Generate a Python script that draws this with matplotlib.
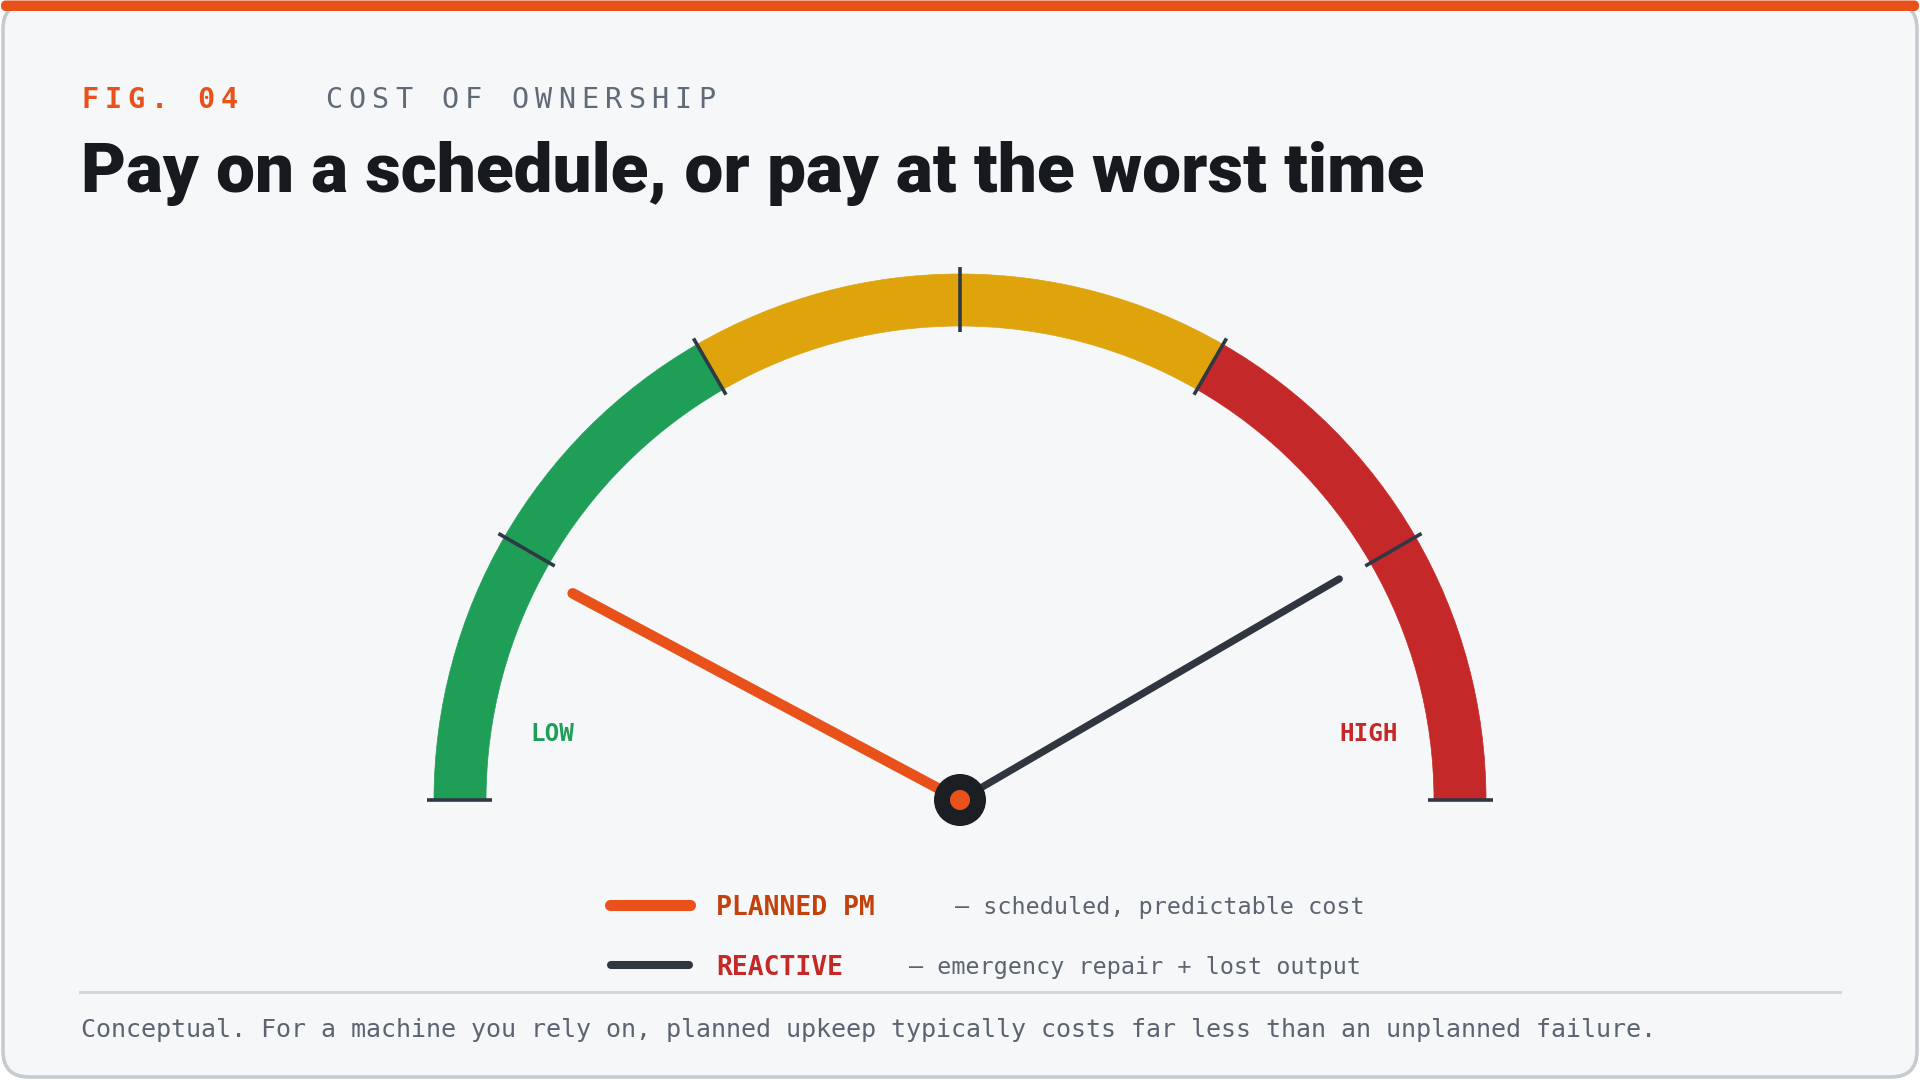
import numpy as np
import matplotlib
matplotlib.use("Agg")
import matplotlib.pyplot as plt
from matplotlib.patches import Wedge, Circle, FancyBboxPatch

# ---------------- data ----------------
zone_edges = [0, 100 / 3, 200 / 3, 100]          # gauge scale 0..100
zone_colors = ["#1f9e58", "#dfa30c", "#c52828"]
tick_values = [0, 100 / 6, 200 / 6, 300 / 6, 400 / 6, 500 / 6, 100]
series_names = ["PLANNED PM", "REACTIVE"]
series_values = [15.6, 83.2]
series_desc = ["\u2014 scheduled, predictable cost", "\u2014 emergency repair + lost output"]
series_colors = ["#e8521a", "#2f3640"]
label_colors = ["#c2410c", "#c62828"]
end_labels = ["LOW", "HIGH"]
end_label_colors = ["#1f9e58", "#c62828"]

fig_tag = "FIG. 04"
fig_kicker = "COST OF OWNERSHIP"
title = "Pay on a schedule, or pay at the worst time"
footnote = ("Conceptual. For a machine you rely on, planned upkeep typically "
            "costs far less than an unplanned failure.")

MONO = ["DejaVu Sans Mono"]
W, H = 1920, 1080
fig = plt.figure(figsize=(W / 100, H / 100), dpi=100)
fig.patch.set_facecolor("white")

# ---------------- background / card (pixel axes) ----------------
bg = fig.add_axes([0, 0, 1, 1])
bg.set_xlim(0, W)
bg.set_ylim(H, 0)
bg.axis("off")

card = FancyBboxPatch((3, 3), W - 6, H - 6, boxstyle="round,pad=0,rounding_size=26",
                      facecolor="#f5f7f9", edgecolor="#c6cbd1", linewidth=2.6, zorder=1)
bg.add_patch(card)
bar = FancyBboxPatch((1, 0.5), W - 2, 10.5, boxstyle="round,pad=0,rounding_size=5",
                     facecolor="#e8521a", edgecolor="none", zorder=2)
bg.add_patch(bar)

# header with letter spacing
def spaced(x0, y, s, adv, **kw):
    for i, ch in enumerate(s):
        bg.text(x0 + i * adv, y, ch, ha="left", va="baseline", **kw)

spaced(81, 108, fig_tag, 23.3, fontsize=20.5, fontweight="bold", color="#e8521a", family=MONO)
spaced(325, 108, fig_kicker, 23.3, fontsize=20.5, color="#5f6b79", family=MONO)

t = bg.text(81, 192, title, ha="left", va="baseline", fontsize=46, fontweight="black",
            color="#16191d", family=["Roboto", "DejaVu Sans"])
fig.canvas.draw()
r = fig.canvas.get_renderer()
bb = t.get_window_extent(r)
t.set_fontsize(46 * 1341 / bb.width)

# legend rows
rows_y = [905, 965]
line_x = [(610, 690), (611, 689)]
line_w = [8.0, 5.8]
desc_x = [955, 909]
for i in range(len(series_names)):
    bg.plot(line_x[i], [rows_y[i], rows_y[i]], color=series_colors[i], lw=line_w[i],
            solid_capstyle="round", zorder=3)
    bg.text(716, rows_y[i], series_names[i], ha="left", va="center_baseline", fontsize=19,
            fontweight="bold", color=label_colors[i], family=MONO)
    bg.text(desc_x[i], rows_y[i], series_desc[i], ha="left", va="center_baseline",
            fontsize=16.8, color="#5b6470", family=MONO)

# divider and footnote
bg.plot([80, 1840], [992, 992], color="#d3d7dc", lw=2.2, zorder=3)
bg.text(81, 1028, footnote, ha="left", va="center_baseline", fontsize=18,
        color="#5b6470", family=MONO)

# ---------------- gauge axes ----------------
R_px = 526.0
cx, cy = 960.0, 800.0
x_lo, x_hi = cx - 620, cx + 620
y_lo, y_hi = cy + 120, cy - 600      # pixel rows (bottom, top)
gx = fig.add_axes([x_lo / W, 1 - y_lo / H, (x_hi - x_lo) / W, (y_lo - y_hi) / H])
gx.set_xlim((x_lo - cx) / R_px, (x_hi - cx) / R_px)
gx.set_ylim((cy - y_lo) / R_px, (cy - y_hi) / R_px)
gx.set_aspect("equal")
gx.axis("off")
gx.patch.set_alpha(0)

def ang(v):
    return 180.0 - 1.8 * v

band = 52 / R_px
for i, c in enumerate(zone_colors):
    a1, a2 = ang(zone_edges[i + 1]), ang(zone_edges[i])
    gx.add_patch(Wedge((0, 0), 1.0, a1, a2, width=band, facecolor=c, edgecolor=c,
                       linewidth=0.5, zorder=2))

r_in, r_out = 468 / R_px, 533 / R_px
for v in tick_values:
    a = np.deg2rad(ang(v))
    gx.plot([r_in * np.cos(a), r_out * np.cos(a)], [r_in * np.sin(a), r_out * np.sin(a)],
            color="#2f3944", lw=2.6, solid_capstyle="butt", zorder=3)

needle_len = 439 / R_px
needle_w = [7.6, 5.2]
for i, v in enumerate(series_values):
    a = np.deg2rad(ang(v))
    gx.plot([0, needle_len * np.cos(a)], [0, needle_len * np.sin(a)], color=series_colors[i],
            lw=needle_w[i], solid_capstyle="round", zorder=4 + i)

gx.add_patch(Circle((0, 0), 26 / R_px, facecolor="#1b1f24", edgecolor="none", zorder=8))
gx.add_patch(Circle((0, 0), 10 / R_px, facecolor="#e8521a", edgecolor="none", zorder=9))

gx.text(-0.776, 0.125, end_labels[0], ha="center", va="center", fontsize=17.5,
        fontweight="bold", color=end_label_colors[0], family=MONO)
gx.text(0.776, 0.125, end_labels[1], ha="center", va="center", fontsize=17.5,
        fontweight="bold", color=end_label_colors[1], family=MONO)

fig.savefig("out.png", dpi=100, facecolor=fig.get_facecolor())
